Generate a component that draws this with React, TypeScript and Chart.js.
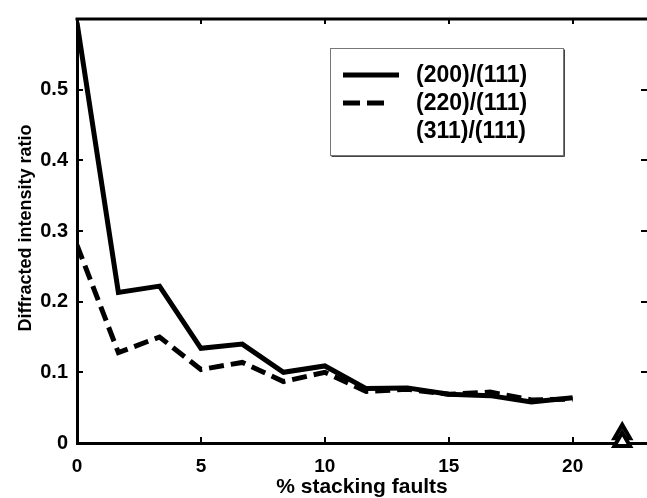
import React, { useEffect, useRef } from "react";
import { Chart, registerables } from "chart.js";

Chart.register(...registerables);

const X_VALUES = [0, 1.67, 3.33, 5, 6.67, 8.33, 10, 11.67, 13.33, 15, 16.67, 18.33, 20];
const SERIES_200 = [0.595, 0.213, 0.222, 0.134, 0.14, 0.1, 0.109, 0.077, 0.078, 0.069, 0.067, 0.058, 0.064];
const SERIES_220 = [0.28, 0.128, 0.15, 0.104, 0.114, 0.087, 0.1, 0.073, 0.076, 0.069, 0.072, 0.061, 0.062];
const SERIES_311_X = [22, 22];
const SERIES_311 = [0.013, 0.002];
const LEGEND_LABELS = ["(200)/(111)", "(220)/(111)", "(311)/(111)"];
const X_TICKS = [0, 5, 10, 15, 20];
const Y_TICKS = [0, 0.1, 0.2, 0.3, 0.4, 0.5];
const X_TITLE = "% stacking faults";
const Y_TITLE = "Diffracted intensity ratio";

const FONT = '"Liberation Sans", Arial, Helvetica, sans-serif';

const framePlugin = {
  id: "frame",
  afterDatasetsDraw(chart: any) {
    const { ctx, chartArea: a, scales } = chart;
    const xs = scales.x;
    const ys = scales.y;
    ctx.save();
    ctx.strokeStyle = "#000";
    ctx.lineWidth = 3;
    ctx.beginPath();
    ctx.moveTo(a.left - 1.5, a.top);
    ctx.lineTo(a.right + 1.5, a.top);
    ctx.stroke();
    ctx.lineWidth = 2;
    ctx.beginPath();
    X_TICKS.forEach((v) => {
      if (v === 0) return;
      const px = Math.round(xs.getPixelForValue(v));
      ctx.moveTo(px, a.bottom);
      ctx.lineTo(px, a.bottom - 6);
      ctx.moveTo(px, a.top);
      ctx.lineTo(px, a.top + 5);
    });
    Y_TICKS.forEach((v) => {
      if (v === 0) return;
      const py = Math.round(ys.getPixelForValue(v));
      ctx.moveTo(a.left, py);
      ctx.lineTo(a.left + 6, py);
      ctx.moveTo(a.right, py);
      ctx.lineTo(a.right - 6, py);
    });
    ctx.stroke();
    ctx.restore();
  },
  afterDraw(chart: any) {
    const { ctx, chartArea: a } = chart;
    ctx.save();
    ctx.fillStyle = "#000";
    ctx.font = `bold 21px ${FONT}`;
    ctx.textAlign = "center";
    ctx.textBaseline = "middle";
    ctx.fillText(X_TITLE, (a.left + a.right) / 2, 487);
    ctx.translate(26, 228);
    ctx.rotate(-Math.PI / 2);
    ctx.font = `bold 18px ${FONT}`;
    ctx.fillText(Y_TITLE, 0, 0);
    ctx.restore();

    // legend
    ctx.save();
    const bx = 330.5, by = 48.5, bw = 233, bh = 107;
    ctx.fillStyle = "#fff";
    ctx.fillRect(bx, by, bw, bh);
    ctx.strokeStyle = "#777";
    ctx.lineWidth = 1;
    ctx.strokeRect(bx, by, bw, bh);
    ctx.strokeStyle = "#444";
    ctx.beginPath();
    ctx.moveTo(bx + bw + 1, by + 1);
    ctx.lineTo(bx + bw + 1, by + bh + 1);
    ctx.lineTo(bx + 1, by + bh + 1);
    ctx.stroke();
    const rows = [75, 103, 131];
    ctx.strokeStyle = "#000";
    ctx.lineWidth = 5;
    ctx.setLineDash([]);
    ctx.beginPath();
    ctx.moveTo(343, rows[0]);
    ctx.lineTo(399, rows[0]);
    ctx.stroke();
    ctx.setLineDash([17, 7]);
    ctx.beginPath();
    ctx.moveTo(343, rows[1]);
    ctx.lineTo(384, rows[1]);
    ctx.stroke();
    ctx.setLineDash([]);
    ctx.fillStyle = "#000";
    ctx.font = `bold 23px ${FONT}`;
    ctx.textAlign = "left";
    ctx.textBaseline = "middle";
    LEGEND_LABELS.forEach((t, i) => ctx.fillText(t, 416, rows[i] + 1));
    ctx.restore();
  },
};

export default function App() {
  const ref = useRef<HTMLCanvasElement>(null);
  useEffect(() => {
    if (!ref.current) return;
    const chart = new Chart(ref.current, {
      type: "scatter",
      data: {
        datasets: [
          {
            label: LEGEND_LABELS[0],
            data: X_VALUES.map((x, i) => ({ x, y: SERIES_200[i] })),
            showLine: true,
            borderColor: "#000",
            borderWidth: 5,
            pointRadius: 0,
            borderJoinStyle: "miter",
          },
          {
            label: LEGEND_LABELS[1],
            data: X_VALUES.map((x, i) => ({ x, y: SERIES_220[i] })),
            showLine: true,
            borderColor: "#000",
            borderWidth: 5,
            borderDash: [15, 7],
            pointRadius: 0,
          },
          {
            label: LEGEND_LABELS[2],
            data: SERIES_311_X.map((x, i) => ({ x, y: SERIES_311[i] })),
            showLine: false,
            pointStyle: "triangle",
            pointRadius: 9,
            pointBorderWidth: 4,
            pointBorderColor: "#000",
            pointBackgroundColor: "#fff",
            clip: false as any,
          },
        ],
      },
      options: {
        animation: false,
        responsive: false,
        layout: { padding: { top: 10, right: 10, left: 0, bottom: 0 } },
        plugins: { legend: { display: false }, tooltip: { enabled: false } },
        scales: {
          x: {
            type: "linear",
            min: 0,
            max: 23,
            afterFit: (s: any) => {
              s.height = 55;
            },
            afterBuildTicks: (s: any) => {
              s.ticks = X_TICKS.map((v) => ({ value: v }));
            },
            grid: { display: false, drawTicks: false },
            border: { display: true, width: 3, color: "#000" },
            ticks: {
              padding: 12,
              color: "#000",
              font: { family: FONT, size: 19, weight: "bold" },
              maxRotation: 0,
              callback: (v: any) => String(v),
            },
          },
          y: {
            type: "linear",
            min: 0,
            max: 0.6,
            afterFit: (s: any) => {
              s.width = 77;
            },
            afterBuildTicks: (s: any) => {
              s.ticks = Y_TICKS.map((v) => ({ value: v }));
            },
            grid: { display: false, drawTicks: false },
            border: { display: true, width: 3, color: "#000" },
            ticks: {
              padding: 9,
              color: "#000",
              font: { family: FONT, size: 20, weight: "bold", lineHeight: 1 },
              callback: (v: any) => String(Number(Number(v).toFixed(1))),
            },
          },
        },
      },
      plugins: [framePlugin],
    } as any);
    return () => chart.destroy();
  }, []);
  return (
    <div style={{ position: "fixed", left: 0, top: 0, width: "100vw", height: 498, background: "#fff", overflow: "hidden" }}>
      <canvas ref={ref} width={660} height={498} style={{ display: "block" }} />
    </div>
  );
}
